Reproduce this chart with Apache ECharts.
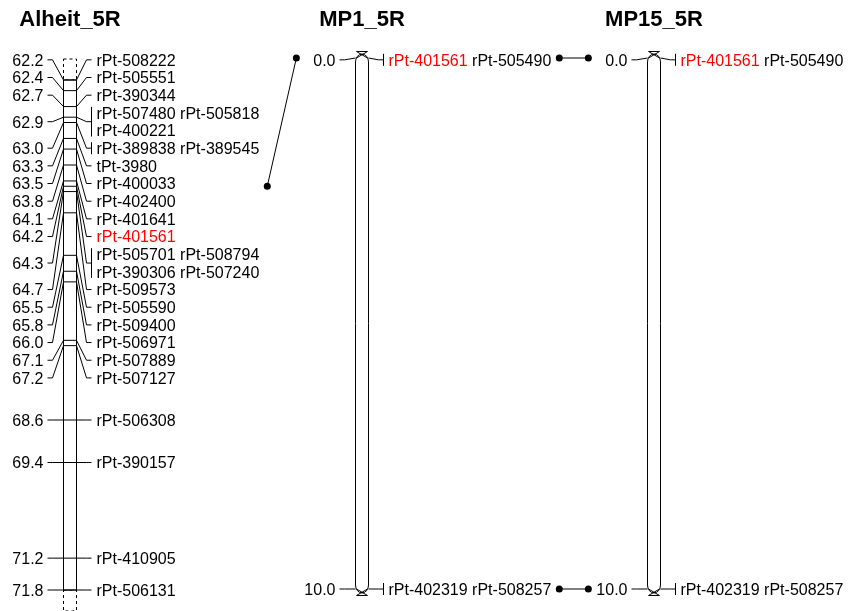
<!DOCTYPE html>
<html>
<head>
<meta charset="utf-8">
<script src="https://cdn.jsdelivr.net/npm/echarts@6/dist/echarts.min.js"></script>
<style>
  html, body { margin: 0; padding: 0; background: #fff; }
  #main { width: 858px; height: 611px; }
</style>
</head>
<body>
<div id="main"></div>
<script>
// linkage groups, left to right
const groupNames = ['Alheit_5R', 'MP1_5R', 'MP15_5R'];

// Alheit_5R (region of a longer chromosome)
const alheitPos = [62.2, 62.4, 62.7, 62.9, 63.0, 63.3, 63.5, 63.8, 64.1, 64.2, 64.3,
  64.7, 65.5, 65.8, 66.0, 67.1, 67.2, 68.6, 69.4, 71.2, 71.8];
const alheitLoci = [
  ['rPt-508222'], ['rPt-505551'], ['rPt-390344'],
  ['rPt-507480', 'rPt-505818', 'rPt-400221'],
  ['rPt-389838', 'rPt-389545'], ['tPt-3980'], ['rPt-400033'], ['rPt-402400'],
  ['rPt-401641'], ['rPt-401561'],
  ['rPt-505701', 'rPt-508794', 'rPt-390306', 'rPt-507240'],
  ['rPt-509573'], ['rPt-505590'], ['rPt-509400'], ['rPt-506971'], ['rPt-507889'],
  ['rPt-507127'], ['rPt-506308'], ['rPt-390157'], ['rPt-410905'], ['rPt-506131']
];

// MP1_5R
const mp1Pos = [0.0, 10.0];
const mp1Loci = [['rPt-401561', 'rPt-505490'], ['rPt-402319', 'rPt-508257']];

// MP15_5R
const mp15Pos = [0.0, 10.0];
const mp15Loci = [['rPt-401561', 'rPt-505490'], ['rPt-402319', 'rPt-508257']];

// markers shown in red
const highlighted = ['rPt-401561'];

const positions = [alheitPos, mp1Pos, mp15Pos];
const loci = [alheitLoci, mp1Loci, mp15Loci];
const isRegion = [true, false, false]; // dashed ends = chromosome continues

// layout
const FONT = '"Liberation Sans", Arial, Helvetica, sans-serif';
const centers = [70, 362, 654];
const CW = 13;
const ROW = 17.67;
const TXT_DY = 1.5;
const gridTop = [80, 58, 58];
const gridHeight = [510, 531, 531];
const LABEL_TOP = 51, LABEL_BOTTOM = 599;

const chart = echarts.init(document.getElementById('main'), null, { renderer: 'canvas' });

function rowsOf(list) {
  const rows = [];
  for (let i = 0; i < list.length; i += 2) rows.push(list.slice(i, i + 2));
  return rows;
}

// spread labels so they don't overlap, keeping them near their markers
function spread(ideals, heights) {
  const cls = [];
  const place = c => {
    let s = 0, off = 0;
    c.items.forEach(i => { s += ideals[i] - off - heights[i] / 2; off += heights[i]; });
    c.H = off;
    c.top = Math.min(Math.max(s / c.items.length, LABEL_TOP), LABEL_BOTTOM - c.H);
  };
  ideals.forEach((_, i) => {
    let c = { items: [i] };
    place(c);
    while (cls.length && cls[cls.length - 1].top + cls[cls.length - 1].H > c.top + 1e-6) {
      const p = cls.pop();
      c = { items: p.items.concat(c.items) };
      place(c);
    }
    cls.push(c);
  });
  const tops = [];
  cls.forEach(c => {
    let off = c.top;
    c.items.forEach(i => { tops[i] = off; off += heights[i]; });
  });
  return tops;
}

const layouts = {};
function getLayout(gi, api) {
  if (layouts[gi]) return layouts[gi];
  const ys = positions[gi].map(p => api.coord([0.5, p])[1]);
  const heights = loci[gi].map(l => rowsOf(l).length * ROW);
  const tops = spread(ys, heights);
  layouts[gi] = { ys, heights, tops };
  return layouts[gi];
}

const ln = { stroke: '#000', lineWidth: 1, fill: null };

function richRow(row) {
  return row.map(m => highlighted.includes(m) ? '{hl|' + m + '}' : '{n|' + m + '}').join('{n| }');
}

function renderItem(gi) {
  return function (params, api) {
    const L = getLayout(gi, api);
    const j = params.dataIndex;
    const cs = params.coordSys;
    const left = cs.x, right = cs.x + cs.width, cx = cs.x + cs.width / 2;
    const kids = [];
    const pos = positions[gi];
    const y0 = api.coord([0.5, pos[0]])[1];
    const y1 = api.coord([0.5, pos[pos.length - 1]])[1];

    if (j === 0) {
      if (isRegion[gi]) {
        const ext = 21;
        kids.push({ type: 'rect', shape: { x: left, y: y0 - ext, width: CW, height: ext },
          style: { stroke: '#000', fill: '#fff', lineWidth: 1, lineDash: [3, 3] } });
        kids.push({ type: 'rect', shape: { x: left, y: y1, width: CW, height: ext },
          style: { stroke: '#000', fill: '#fff', lineWidth: 1, lineDash: [3, 3] } });
        kids.push({ type: 'rect', shape: { x: left, y: y0, width: CW, height: y1 - y0 },
          style: { stroke: '#000', fill: '#fff', lineWidth: 1 } });
      } else {
        // rounded chromosome ends
        const rx = CW / 2, ry = 8, a = y0 + 4, b = y1 - 4;
        const d = 'M' + left + ',' + a + ' L' + left + ',' + b +
          ' A' + rx + ',' + ry + ' 0 0 0 ' + right + ',' + b +
          ' L' + right + ',' + a +
          ' A' + rx + ',' + ry + ' 0 0 0 ' + left + ',' + a + ' Z';
        kids.push({ type: 'path', shape: { pathData: d },
          style: { stroke: '#000', fill: '#fff', lineWidth: 1 } });
      }
    }

    const my = L.ys[j];
    const rows = rowsOf(loci[gi][j]);
    const ly = L.tops[j] + L.heights[j] / 2;
    const atStart = !isRegion[gi] && j === 0;
    const atEnd = !isRegion[gi] && j === pos.length - 1;

    if (atStart || atEnd) {
      const d = atStart ? -6.5 : 6.5;
      kids.push({ type: 'line', shape: { x1: left + 1, y1: my + d, x2: right - 1, y2: my + d }, style: ln });
      kids.push({ type: 'line', shape: { x1: left + 1, y1: my + d, x2: right - 1, y2: my }, style: ln });
      kids.push({ type: 'line', shape: { x1: right - 1, y1: my + d, x2: left + 1, y2: my }, style: ln });
    } else {
      kids.push({ type: 'line', shape: { x1: left, y1: my, x2: right, y2: my }, style: ln });
    }

    kids.push({ type: 'polyline', shape: { points: [[left - 16, ly], [left - 11, ly], [left, my]] }, style: ln });
    kids.push({ type: 'polyline', shape: { points: [[right, my], [right + 10, ly], [right + 15, ly]] }, style: ln });

    kids.push({ type: 'text', style: {
      text: pos[j].toFixed(1), x: left - 20, y: ly + TXT_DY, align: 'right', verticalAlign: 'middle',
      fontSize: 16, fontFamily: FONT, fill: '#000' } });

    rows.forEach((row, r) => {
      kids.push({ type: 'text', style: {
        text: richRow(row), x: right + 20, y: L.tops[j] + ROW * (r + 0.5) + TXT_DY,
        align: 'left', verticalAlign: 'middle', fontSize: 16, fontFamily: FONT, fill: '#000',
        rich: {
          n: { fontSize: 16, fontFamily: FONT, fill: '#000' },
          hl: { fontSize: 16, fontFamily: FONT, fill: '#ff0000' }
        } } });
    });

    if (loci[gi][j].length > 1) {
      const ya = L.tops[j] + ROW * 0.5 - 6;
      const yb = L.tops[j] + ROW * (rows.length - 0.5) + 6;
      kids.push({ type: 'line', shape: { x1: right + 15, y1: ya, x2: right + 15, y2: yb }, style: ln });
    }

    return { type: 'group', children: kids };
  };
}

const option = {
  animation: false,
  backgroundColor: '#fff',
  grid: groupNames.map((_, gi) => ({
    left: centers[gi] - CW / 2, width: CW, top: gridTop[gi], height: gridHeight[gi],
    outerBoundsMode: 'none', containLabel: false
  })),
  xAxis: groupNames.map((_, gi) => ({ gridIndex: gi, type: 'value', min: 0, max: 1, show: false })),
  yAxis: groupNames.map((_, gi) => ({
    gridIndex: gi, type: 'value', inverse: true, show: false,
    min: Math.min(...positions[gi]), max: Math.max(...positions[gi])
  })),
  series: groupNames.map((name, gi) => ({
    type: 'custom', name: name, xAxisIndex: gi, yAxisIndex: gi,
    coordinateSystem: 'cartesian2d', clip: false, silent: true,
    renderItem: renderItem(gi),
    data: positions[gi].map(p => [0.5, p])
  })),
  graphic: groupNames.map((name, gi) => ({
    type: 'text', x: centers[gi], y: 20,
    style: { text: name, align: 'center', verticalAlign: 'middle',
      fontSize: 22, fontWeight: 'bold', fontFamily: FONT, fill: '#000' }
  }))
};
chart.setOption(option);

// links between shared markers of neighbouring groups
const ctx = document.createElement('canvas').getContext('2d');
ctx.font = '16px ' + FONT;
const textW = s => ctx.measureText(s).width;
const rightEdge = gi => centers[gi] + CW / 2 + 20 +
  Math.max(...loci[gi].flatMap(l => rowsOf(l).map(r => textW(r.join(' ')))));
const leftEdge = gi => centers[gi] - CW / 2 - 20 -
  Math.max(...positions[gi].map(p => textW(p.toFixed(1))));

const GAP = 8;
const linkGraphics = [];
for (let gi = 0; gi < groupNames.length - 1; gi++) {
  const seen = {};
  loci[gi].forEach((la, a) => {
    loci[gi + 1].forEach((lb, b) => {
      if (!la.some(m => lb.includes(m)) || seen[a + '-' + b]) return;
      seen[a + '-' + b] = true;
      const ya = chart.convertToPixel({ yAxisIndex: gi }, positions[gi][a]);
      const yb = chart.convertToPixel({ yAxisIndex: gi + 1 }, positions[gi + 1][b]);
      const xa = rightEdge(gi) + GAP, xb = leftEdge(gi + 1) - GAP;
      linkGraphics.push({ type: 'line', shape: { x1: xa, y1: ya, x2: xb, y2: yb },
        style: { stroke: '#000', lineWidth: 1 } });
      linkGraphics.push({ type: 'circle', shape: { cx: xa, cy: ya, r: 3.5 }, style: { fill: '#000' } });
      linkGraphics.push({ type: 'circle', shape: { cx: xb, cy: yb, r: 3.5 }, style: { fill: '#000' } });
    });
  });
}
chart.setOption({ graphic: option.graphic.concat(linkGraphics) });
</script>
</body>
</html>
